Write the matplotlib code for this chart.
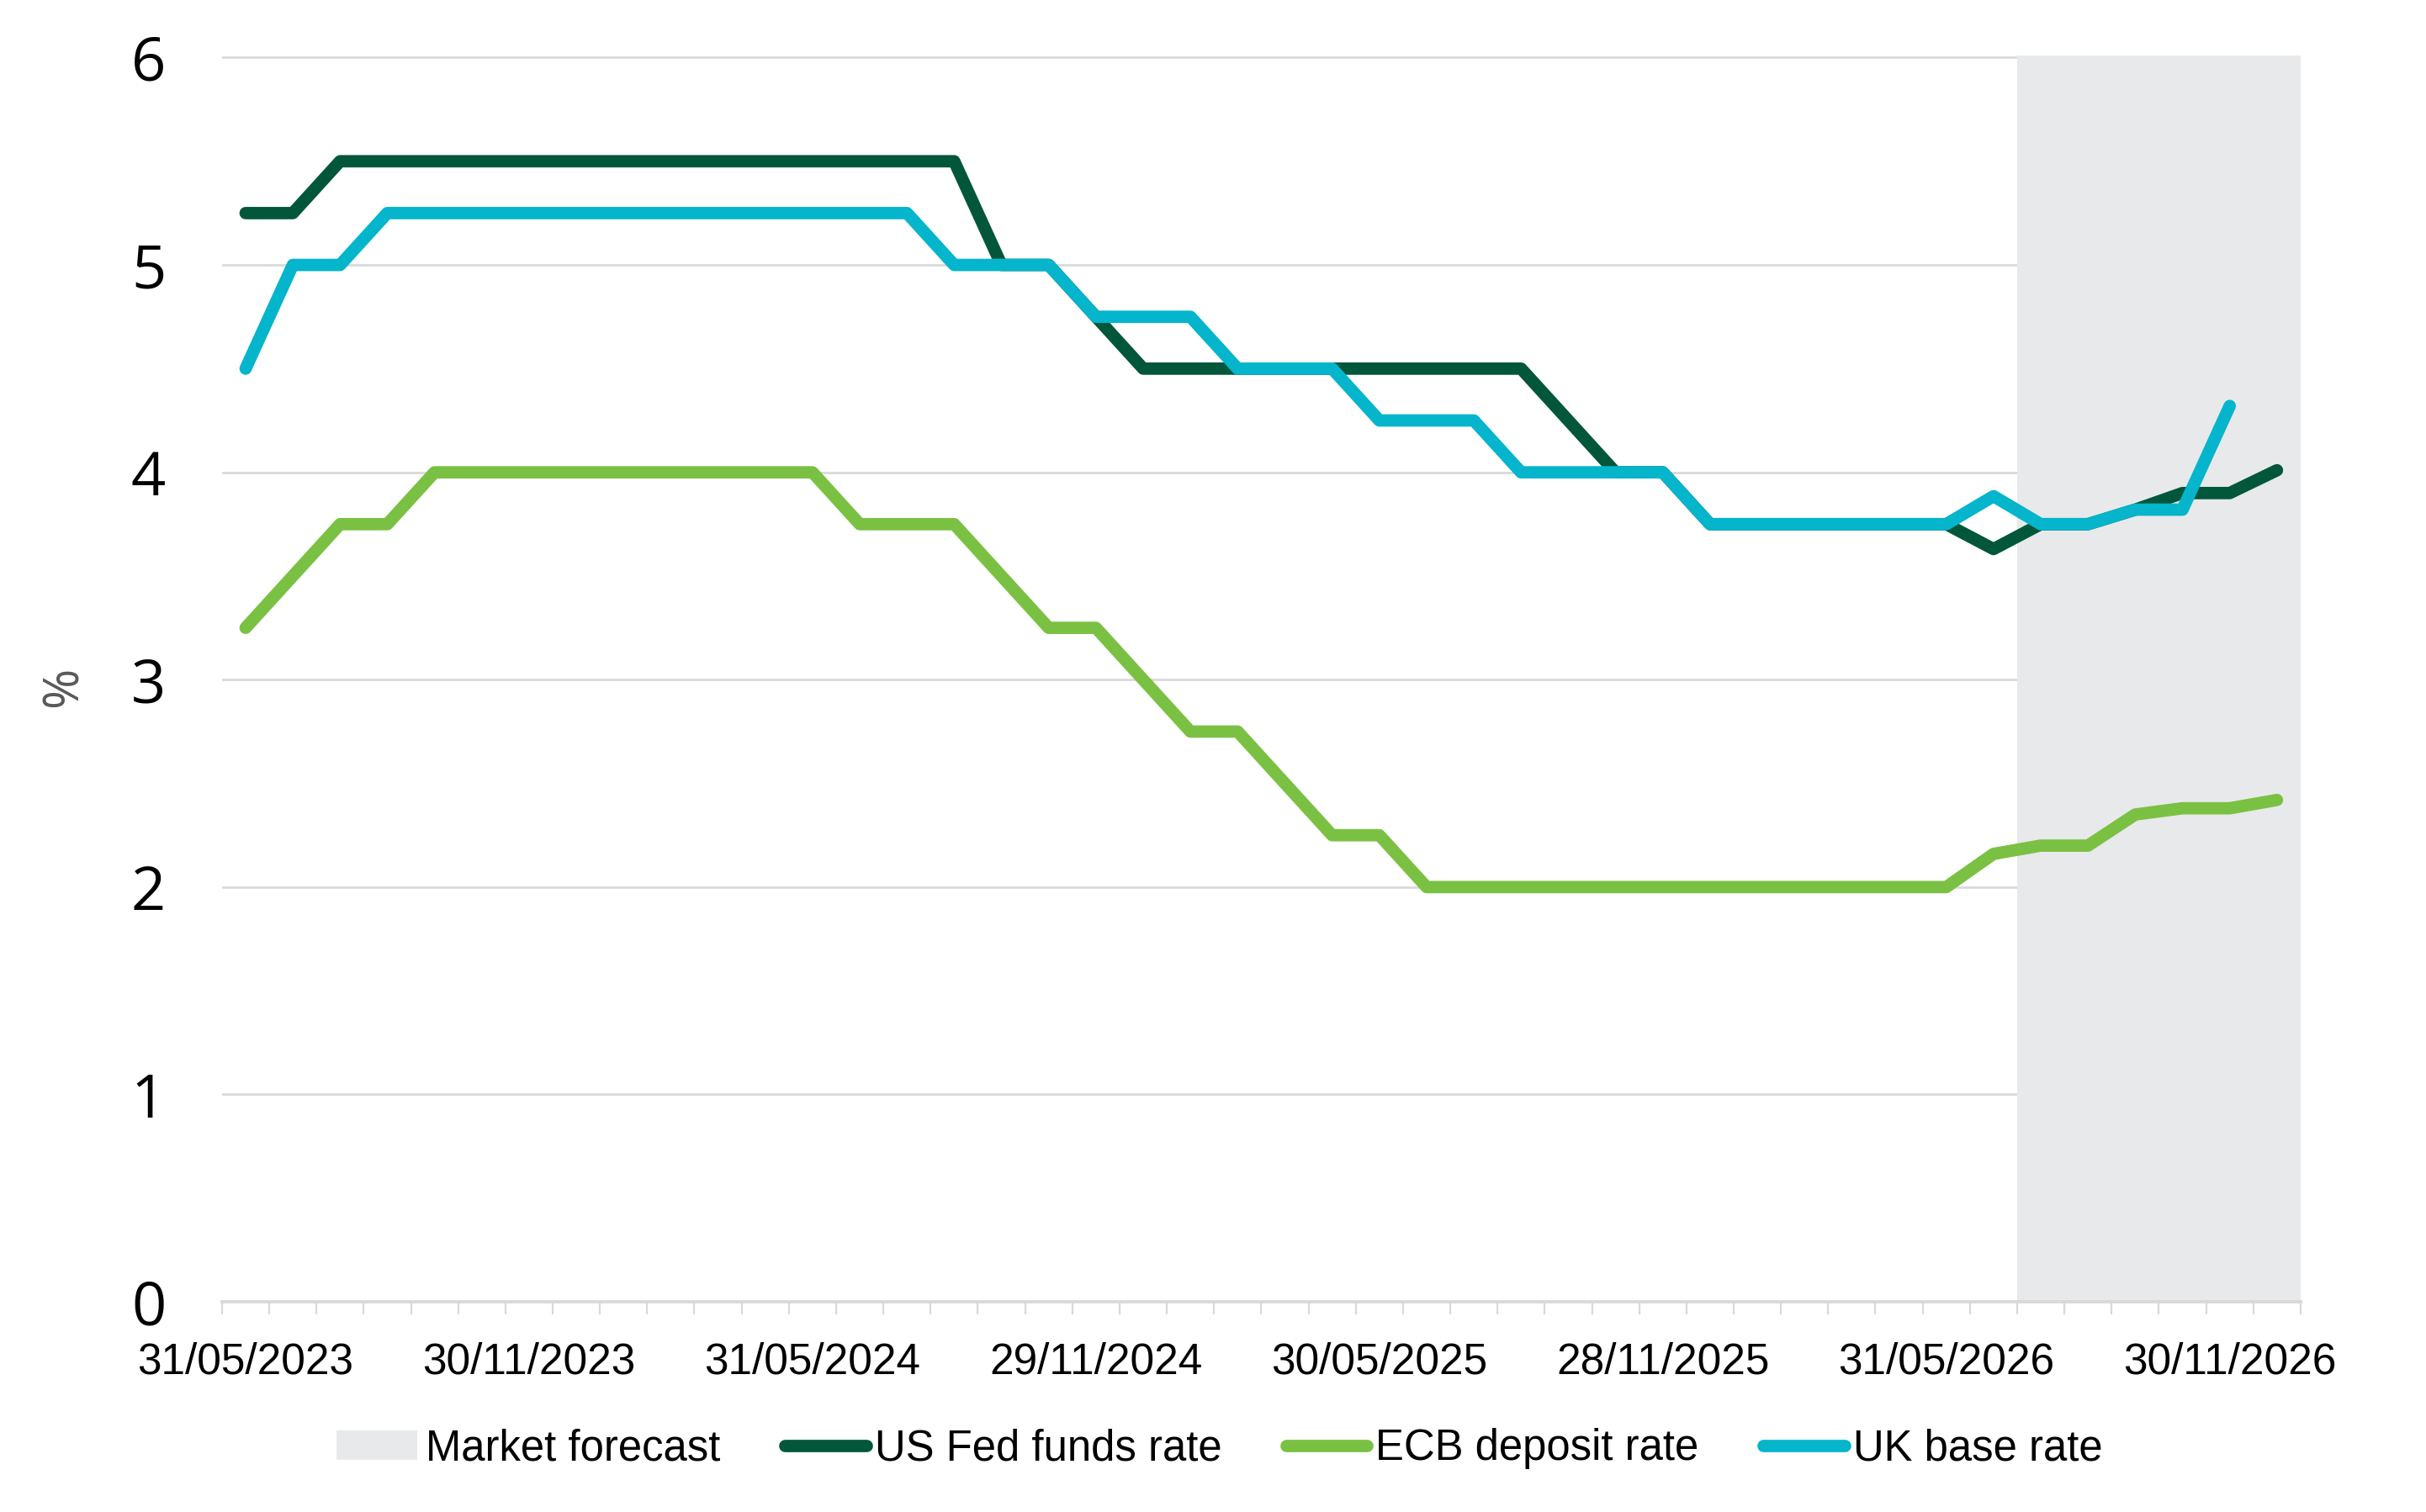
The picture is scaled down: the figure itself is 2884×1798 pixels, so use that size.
import matplotlib
matplotlib.use('Agg')
import matplotlib.pyplot as plt
from matplotlib.patches import Patch
from matplotlib.lines import Line2D
from matplotlib.ticker import FixedLocator

plt.rcParams['font.family'] = ['Liberation Sans', 'DejaVu Sans']

# month-end categories, May 2023 .. Dec 2026 (one label every 6 months)
tick_labels = ['31/05/2023', '30/11/2023', '31/05/2024', '29/11/2024',
               '30/05/2025', '28/11/2025', '31/05/2026', '30/11/2026']
label_step = 6
forecast_first = 38  # index of first month in the shaded forecast block

fed = [5.25, 5.25, 5.5, 5.5, 5.5, 5.5, 5.5, 5.5, 5.5, 5.5, 5.5, 5.5, 5.5, 5.5, 5.5, 5.5,
       5.0, 5.0, 4.75, 4.5, 4.5, 4.5, 4.5, 4.5, 4.5, 4.5, 4.5, 4.5, 4.25, 4.0, 4.0,
       3.75, 3.75, 3.75, 3.75, 3.75, 3.75, 3.63, 3.75, 3.75, 3.82, 3.9, 3.9, 4.01]
ecb = [3.25, 3.5, 3.75, 3.75, 4.0, 4.0, 4.0, 4.0, 4.0, 4.0, 4.0, 4.0, 4.0, 3.75, 3.75, 3.75,
       3.5, 3.25, 3.25, 3.0, 2.75, 2.75, 2.5, 2.25, 2.25, 2.0, 2.0, 2.0, 2.0, 2.0, 2.0,
       2.0, 2.0, 2.0, 2.0, 2.0, 2.0, 2.16, 2.2, 2.2, 2.35, 2.38, 2.38, 2.42]
uk = [4.5, 5.0, 5.0, 5.25, 5.25, 5.25, 5.25, 5.25, 5.25, 5.25, 5.25, 5.25, 5.25, 5.25, 5.25,
      5.0, 5.0, 5.0, 4.75, 4.75, 4.75, 4.5, 4.5, 4.5, 4.25, 4.25, 4.25, 4.0, 4.0, 4.0, 4.0,
      3.75, 3.75, 3.75, 3.75, 3.75, 3.75, 3.885, 3.75, 3.75, 3.82, 3.82, 4.32]

series = [('US Fed funds rate', fed, '#02573a'),
          ('ECB deposit rate', ecb, '#7ac143'),
          ('UK base rate', uk, '#04b5cc')]
shade = '#e8e9eb'
grid_col = '#d9d9d9'

fig = plt.figure(figsize=(14.42, 8.99), dpi=200)
ax = fig.add_axes([0.0915, 0.139, 0.8568, 0.8243])

n = len(fed)
ax.axvspan(forecast_first - 0.5, n - 0.5, color=shade, lw=0, zorder=1)
for name, vals, col in series:
    ax.plot(range(len(vals)), vals, color=col, lw=5.3, solid_capstyle='round',
            solid_joinstyle='round', zorder=3)

ax.set_xlim(-0.5, n - 0.5)
ax.set_ylim(0, 6.01)
ax.set_yticks(range(7))
ax.set_yticklabels([str(v) for v in range(7)], family=['Open Sans', 'DejaVu Sans'])
ax.grid(axis='y', color=grid_col, lw=1.0)
ax.set_axisbelow(True)

ax.set_xticks(range(0, n, label_step))
ax.set_xticklabels(tick_labels)
ax.xaxis.set_minor_locator(FixedLocator([i - 0.5 for i in range(n + 1)]))
ax.tick_params(axis='x', which='major', length=0, pad=17, labelsize=18.5)
ax.tick_params(axis='x', which='minor', length=5.4, width=0.8, color=grid_col)
ax.tick_params(axis='y', length=0, pad=24, labelsize=26)
for s in ['top', 'right', 'left']:
    ax.spines[s].set_visible(False)
ax.spines['bottom'].set_color(grid_col)
ax.spines['bottom'].set_linewidth(1.4)
ax.spines['bottom'].set_zorder(2)

fig.text(76 / 2884, 1 - 817 / 1798, '%', rotation=90, ha='center', va='center',
         fontsize=21, color='#595959', family=['Open Sans', 'DejaVu Sans'])

handles = [Patch(facecolor=shade, lw=0)]
handles += [Line2D([], [], color=c, lw=5.3, solid_capstyle='round') for _, _, c in series]
labels = ['Market forecast'] + [s[0] for s in series]
fig.legend(handles, labels, loc='center', bbox_to_anchor=(0.5026, 0.0418), ncol=4,
           frameon=False, handlelength=1.9, handletextpad=0.2, columnspacing=1.5,
           fontsize=18.3)

fig.savefig('out.png', dpi=200)
